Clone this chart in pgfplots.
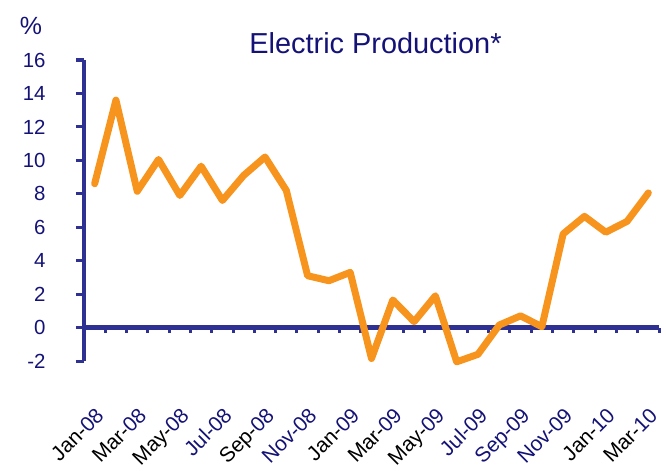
\documentclass[border=0pt]{standalone}
\usepackage{pgfplots}
\pgfplotsset{compat=1.18}
\usepackage{fontspec}
\setmainfont{Liberation Sans}
\definecolor{axnavy}{RGB}{46,49,146}
\definecolor{txtnavy}{RGB}{20,18,118}
\definecolor{lineorange}{RGB}{247,148,30}
\newcommand{\ml}[2]{\textcolor{black}{#1-}\textcolor{txtnavy}{#2}}
\newcommand{\nl}[1]{\textcolor{txtnavy}{#1}}
\newcommand{\yl}[1]{#1\rule{27bp}{0pt}}
\begin{document}
\begin{tikzpicture}
\begin{axis}[
  width=575bp, height=301bp, scale only axis,
  xmin=0, xmax=27, ymin=-2, ymax=16,
  clip=false,
  axis x line=middle, axis y line=left,
  axis line style={-, axnavy, line width=4.5bp},
  ytick={-2,0,...,16},
  yticklabels={\yl{-2},\yl{0},\yl{2},\yl{4},\yl{6},\yl{8},\yl{10},\yl{12},\yl{14},\yl{16}},
  ytick align=outside,
  ytick style={axnavy, line width=3bp},
  major tick length=8bp,
  yticklabel style={font=\fontsize{20.5}{24}\selectfont, text=txtnavy, anchor=east},
  xtick={0.5,2.5,...,26.5},
  xticklabels={\ml{Jan}{08},\ml{Mar}{08},\ml{May}{08},\nl{Jul-08},\ml{Sep}{08},\nl{Nov-08},\ml{Jan}{09},\ml{Mar}{09},\ml{May}{09},\nl{Jul-09},\nl{Sep-09},\nl{Nov-09},\ml{Jan}{10},\ml{Mar}{10}},
  major x tick style={draw=none},
  xticklabel style={font=\fontsize{21}{24}\selectfont, text=black, rotate=45, anchor=north east},
  xticklabel shift=66bp,
  minor xtick={0,1,...,27},
  xtick align=outside,
  minor x tick style={draw=axnavy, line width=3bp},
  minor tick length=5bp,
]
\coordinate (sw) at (rel axis cs:0,0);
\addplot[lineorange, line width=7bp, line join=round, line cap=round] coordinates {
(0.5,8.6) (1.5,13.6) (2.5,8.15) (3.5,10.05) (4.5,7.9) (5.5,9.65) (6.5,7.6)
(7.5,9.1) (8.5,10.2) (9.5,8.2) (10.5,3.1) (11.5,2.8) (12.5,3.3) (13.5,-1.85)
(14.5,1.65) (15.5,0.35) (16.5,1.9) (17.5,-2.05) (18.5,-1.6) (19.5,0.15)
(20.5,0.7) (21.5,0.05) (22.5,5.6) (23.5,6.65) (24.5,5.7) (25.5,6.35) (26.5,8.05)
};
\end{axis}
\node[text=txtnavy, font=\fontsize{25}{28}\selectfont] at ([shift={(-53bp,335bp)}]sw) {\%};
\node[text=txtnavy, font=\fontsize{29}{32}\selectfont] at ([shift={(291.5bp,318bp)}]sw) {Electric Production*};
\pgfresetboundingbox
\path[use as bounding box] ([shift={(-84bp,-114bp)}]sw) rectangle ++(666bp,475bp);
\end{tikzpicture}
\end{document}
